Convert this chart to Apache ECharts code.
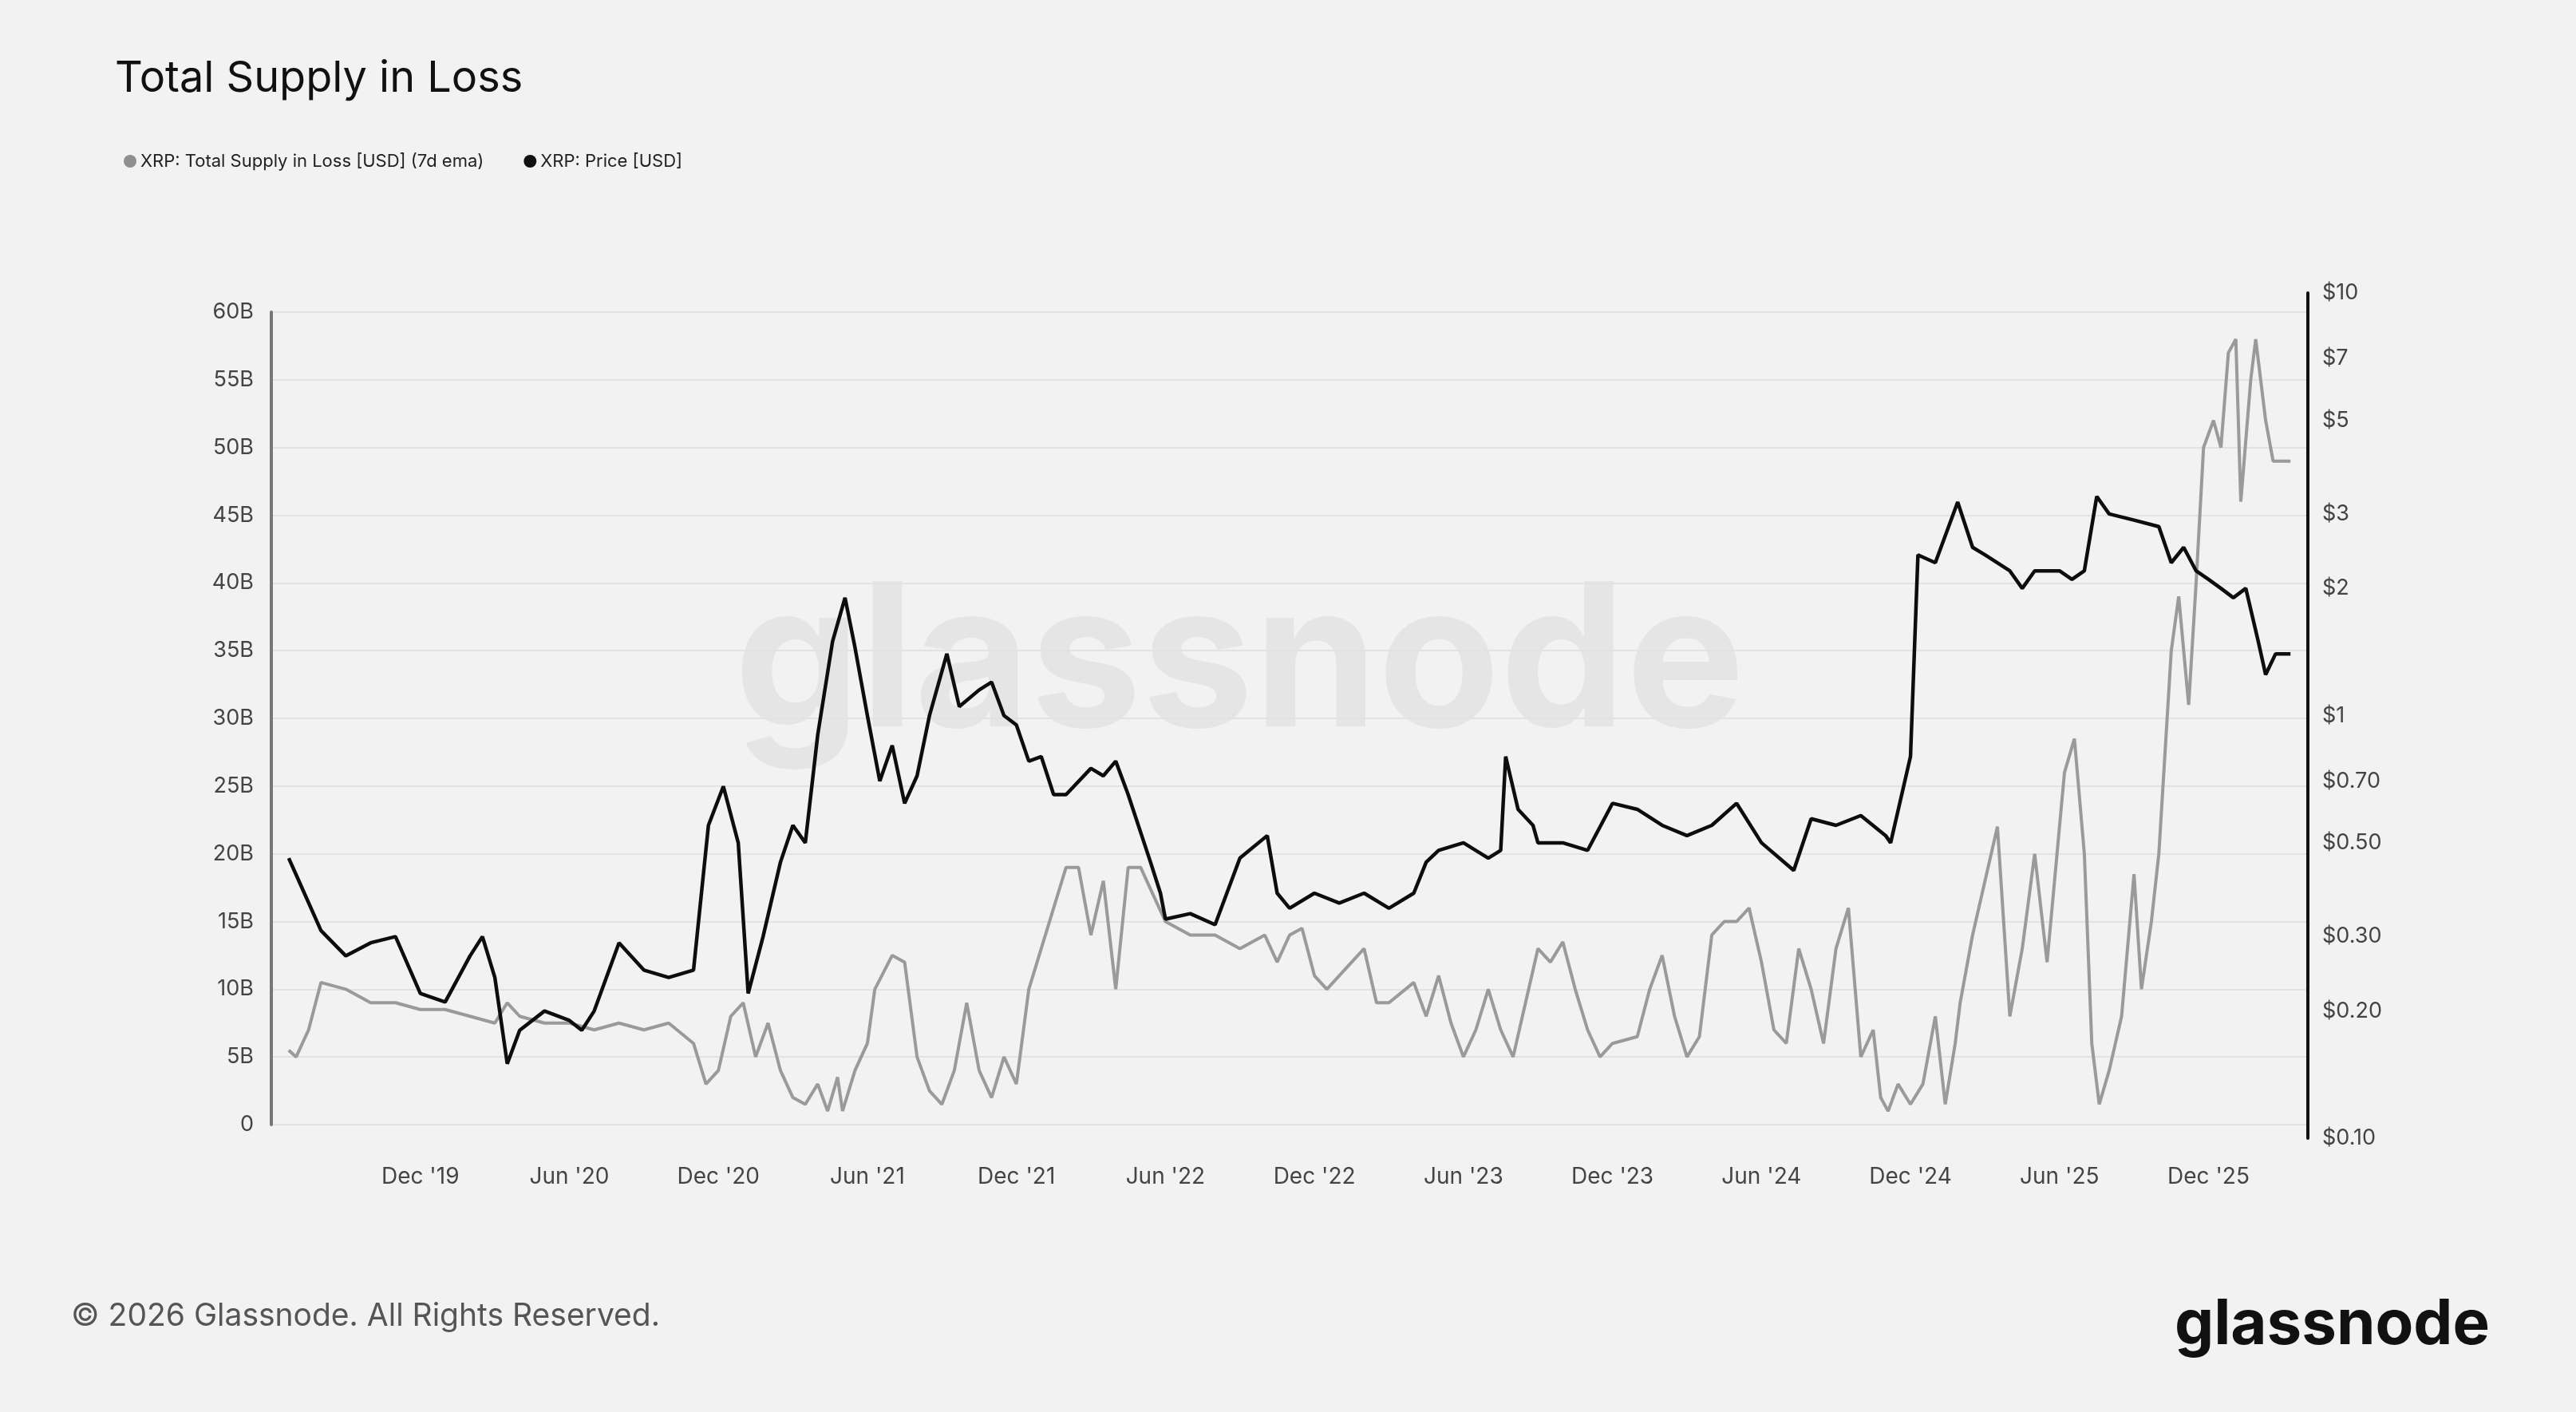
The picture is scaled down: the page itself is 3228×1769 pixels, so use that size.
<!DOCTYPE html>
<html>
<head>
<meta charset="utf-8">
<script src="https://cdn.jsdelivr.net/npm/echarts@6/dist/echarts.min.js"></script>
<style>
  html, body { margin: 0; padding: 0; background: #f2f2f2; }
  #container { width: 3228px; height: 1769px; }
</style>
</head>
<body>
<div id="container"></div>
<script>
// x = months since 1 Jun 2019
const xTickLabels = { 6: "Dec '19", 12: "Jun '20", 18: "Dec '20", 24: "Jun '21", 30: "Dec '21",
  36: "Jun '22", 42: "Dec '22", 48: "Jun '23", 54: "Dec '23", 60: "Jun '24", 66: "Dec '24",
  72: "Jun '25", 78: "Dec '25" };

const priceX = [0.7,1,2,3,4,5,6,7,8,8.5,9,9.5,10,11,12,12.5,13,14,15,16,17,17.6,18.2,18.8,19.2,19.8,20.5,21,21.5,22,22.6,23.1,23.5,24,24.5,25,25.5,26,26.5,27.2,27.7,28.5,29,29.5,30,30.5,31,31.5,32,33,33.5,34,34.5,35.4,35.8,36,37,38,39,40.1,40.5,41,42,43,44,45,46,46.5,47,48,49,49.5,49.7,50.2,50.8,51,52,53,54,55,56,57,58,59,60,61.3,62,63,64,65,65.2,66,66.3,67,67.9,68.5,69,70,70.5,71,72,72.5,73,73.5,74,75,76,76.5,77,77.5,78,78.5,79,79.5,80,80.3,80.7,81.3];
const priceY = [0.46,0.42,0.31,0.27,0.29,0.30,0.22,0.21,0.27,0.30,0.24,0.15,0.18,0.20,0.19,0.18,0.20,0.29,0.25,0.24,0.25,0.55,0.68,0.5,0.22,0.30,0.45,0.55,0.5,0.9,1.5,1.9,1.45,1.0,0.7,0.85,0.62,0.72,1.0,1.4,1.05,1.15,1.2,1.0,0.95,0.78,0.80,0.65,0.65,0.75,0.72,0.78,0.65,0.45,0.38,0.33,0.34,0.32,0.46,0.52,0.38,0.35,0.38,0.36,0.38,0.35,0.38,0.45,0.48,0.50,0.46,0.48,0.80,0.60,0.55,0.50,0.50,0.48,0.62,0.60,0.55,0.52,0.55,0.62,0.50,0.43,0.57,0.55,0.58,0.52,0.50,0.80,2.4,2.3,3.2,2.5,2.4,2.2,2.0,2.2,2.2,2.1,2.2,3.3,3.0,2.9,2.8,2.3,2.5,2.2,2.1,2.0,1.9,2.0,1.5,1.25,1.4,1.4];

const lossX = [0.7,1,1.5,2,3,4,5,6,7,8,9,9.5,10,11,12,13,14,15,16,17,17.5,18,18.5,19,19.5,20,20.5,21,21.5,22,22.4,22.8,23,23.5,24,24.3,25,25.5,26,26.5,27,27.5,28,28.5,29,29.5,30,30.5,31,31.5,32,32.5,33,33.5,34,34.5,35,35.5,36,37,38,39,40,40.5,41,41.5,42,42.5,43,44,44.5,45,46,46.5,47,47.5,48,48.5,49,49.5,50,50.5,51,51.5,52,52.5,53,53.5,54,55,55.5,56,56.5,57,57.5,58,58.5,59,59.5,60,60.5,61,61.5,62,62.5,63,63.5,64,64.5,64.8,65.1,65.5,66,66.5,67,67.4,67.8,68,68.5,69,69.5,70,70.5,71,71.5,72.2,72.6,73,73.3,73.6,74,74.5,75,75.3,75.7,76,76.5,76.8,77.2,77.5,77.8,78.2,78.5,78.8,79.1,79.3,79.7,79.9,80.3,80.6,81.3];
const lossY = [5.5,5,7,10.5,10,9,9,8.5,8.5,8,7.5,9,8,7.5,7.5,7,7.5,7,7.5,6,3,4,8,9,5,7.5,4,2,1.5,3,1,3.5,1,4,6,10,12.5,12,5,2.5,1.5,4,9,4,2,5,3,10,13,16,19,19,14,18,10,19,19,17,15,14,14,13,14,12,14,14.5,11,10,11,13,9,9,10.5,8,11,7.5,5,7,10,7,5,9,13,12,13.5,10,7,5,6,6.5,10,12.5,8,5,6.5,14,15,15,16,12,7,6,13,10,6,13,16,5,7,2,1,3,1.5,3,8,1.5,6,9,14,18,22,8,13,20,12,26,28.5,20,6,1.5,4,8,18.5,10,15,20,35,39,31,40,50,52,50,57,58,46,55,58,52,49,49];

const rightLabels = [[10,"$10"],[7,"$7"],[5,"$5"],[3,"$3"],[2,"$2"],[1,"$1"],[0.7,"$0.70"],[0.5,"$0.50"],[0.3,"$0.30"],[0.2,"$0.20"],[0.1,"$0.10"]];

const font = "Inter, 'Noto Sans', sans-serif";
const chart = echarts.init(document.getElementById("container"));

const xBase = {
  type: "value", min: 0, max: 82, interval: 6,
  axisLine: { show: false }, axisTick: { show: false }, splitLine: { show: false },
};

chart.setOption({
  animation: false,
  backgroundColor: "#f2f2f2",
  textStyle: { fontFamily: font },
  legend: {
    left: 150, top: 186, itemGap: 50, icon: "circle", itemWidth: 16, itemHeight: 16,
    textStyle: { color: "#222", fontSize: 22, fontFamily: font },
    data: ["XRP: Total Supply in Loss [USD] (7d ema)", "XRP: Price [USD]"],
  },
  grid: [
    { left: 340, right: 336, top: 391, bottom: 360 },
    { left: 340, right: 336, top: 367, bottom: 343 },
  ],
  xAxis: [
    Object.assign({}, xBase, { gridIndex: 0, axisLabel: {
      color: "#444", fontSize: 28, margin: 52, fontFamily: font,
      formatter: v => xTickLabels[v] || "",
    } }),
    Object.assign({}, xBase, { gridIndex: 1, axisLabel: { show: false } }),
  ],
  yAxis: [
    {
      type: "value", gridIndex: 0, min: 0, max: 60, interval: 5, position: "left",
      axisLine: { show: true, onZero: false, lineStyle: { color: "#777", width: 4 } },
      axisTick: { show: false },
      splitLine: { lineStyle: { color: "#e2e2e2", width: 2 } },
      axisLabel: { color: "#444", fontSize: 27, margin: 22, fontFamily: font, formatter: v => v === 0 ? "0" : v + "B" },
    },
    {
      type: "log", gridIndex: 1, logBase: 10, min: 0.1, max: 10, position: "right",
      axisLine: { show: true, onZero: false, lineStyle: { color: "#111", width: 4 } },
      axisTick: { show: false }, splitLine: { show: false },
      axisLabel: { show: false },
    },
  ],
  series: [
    {
      name: "XRP: Total Supply in Loss [USD] (7d ema)", type: "line", xAxisIndex: 0, yAxisIndex: 0,
      data: lossX.map((x, i) => [x, lossY[i]]), showSymbol: false,
      itemStyle: { color: "#8f8f8f" }, lineStyle: { color: "#9a9a9a", width: 4 },
    },
    {
      name: "XRP: Price [USD]", type: "line", xAxisIndex: 1, yAxisIndex: 1,
      data: priceX.map((x, i) => [x, priceY[i]]), showSymbol: false,
      itemStyle: { color: "#111" }, lineStyle: { color: "#0d0d0d", width: 4.5 },
    },
  ],
});

const g = [
  { type: "text", left: 144, top: 72, style: { text: "Total Supply in Loss", fontSize: 54, fill: "#111", fontFamily: font } },
  { type: "text", left: 89, top: 1630, style: { text: "© 2026 Glassnode. All Rights Reserved.", fontSize: 39, fill: "#555", fontFamily: font } },
  { type: "text", right: 108, top: 1622, style: { text: "glassnode", fontSize: 78, fontWeight: "bold", fill: "#111", fontFamily: font } },
  { type: "text", left: 920, top: 710, z: -1, style: { text: "glassnode", fontSize: 250, fontWeight: "bold", fill: "rgba(0,0,0,0.05)", fontFamily: font } },
];
rightLabels.forEach(([v, s]) => {
  const y = chart.convertToPixel({ yAxisIndex: 1 }, v);
  g.push({ type: "text", x: 2910, y: y, style: { text: s, fontSize: 27, fill: "#444", fontFamily: font, verticalAlign: "middle" } });
});
chart.setOption({ graphic: g });
</script>
</body>
</html>
